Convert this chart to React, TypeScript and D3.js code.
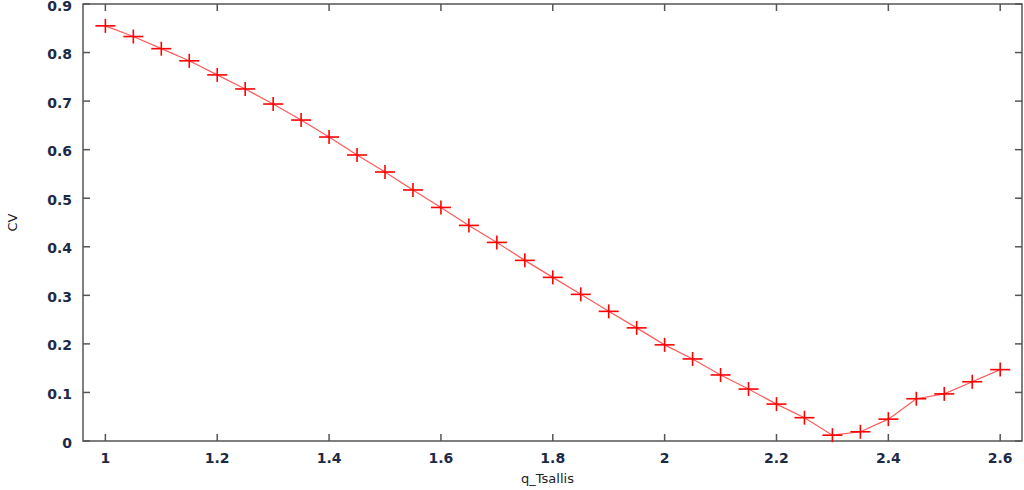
import { useEffect, useRef } from 'react';
import * as d3 from 'd3';

// q values and CV readings taken from the plot
const qValues = [
  1.0, 1.05, 1.1, 1.15, 1.2, 1.25, 1.3, 1.35, 1.4, 1.45, 1.5, 1.55, 1.6, 1.65, 1.7, 1.75, 1.8,
  1.85, 1.9, 1.95, 2.0, 2.05, 2.1, 2.15, 2.2, 2.25, 2.3, 2.35, 2.4, 2.45, 2.5, 2.55, 2.6
];
const cvValues = [
  0.855, 0.833, 0.808, 0.783, 0.754, 0.725, 0.694, 0.661, 0.626, 0.589, 0.554, 0.517, 0.481,
  0.444, 0.409, 0.372, 0.337, 0.302, 0.267, 0.233, 0.198, 0.169, 0.136, 0.107, 0.076, 0.048,
  0.012, 0.019, 0.045, 0.087, 0.097, 0.122, 0.147
];
const xTicks = [1, 1.2, 1.4, 1.6, 1.8, 2, 2.2, 2.4, 2.6];
const yTicks = [0, 0.1, 0.2, 0.3, 0.4, 0.5, 0.6, 0.7, 0.8, 0.9];

const WIDTH = 1024;
const HEIGHT = 490;
const margin = { top: 4, right: 2, bottom: 49, left: 83 };

export default function App() {
  const svgRef = useRef<SVGSVGElement>(null);

  useEffect(() => {
    if (!svgRef.current) return;
    const svg = d3.select(svgRef.current);
    svg.selectAll('*').remove();

    const innerW = WIDTH - margin.left - margin.right;
    const innerH = HEIGHT - margin.top - margin.bottom;

    const x = d3.scaleLinear().domain([0.96, 2.639]).range([0, innerW]);
    const y = d3.scaleLinear().domain([0, 0.9]).range([innerH, 0]);

    const g = svg.append('g').attr('transform', `translate(${margin.left},${margin.top})`);

    const tickLen = 7;
    const frameColor = '#555';
    const labelColor = '#1c2a48';

    // ticks, mirrored on all four sides
    xTicks.forEach(t => {
      const px = x(t);
      g.append('line').attr('x1', px).attr('x2', px).attr('y1', innerH).attr('y2', innerH - tickLen)
        .attr('stroke', frameColor).attr('stroke-width', 1.5);
      g.append('line').attr('x1', px).attr('x2', px).attr('y1', 0).attr('y2', tickLen)
        .attr('stroke', frameColor).attr('stroke-width', 1.5);
      g.append('text')
        .attr('x', px).attr('y', innerH + 22)
        .attr('text-anchor', 'middle')
        .attr('font-family', 'DejaVu Sans, sans-serif')
        .attr('font-weight', 'bold')
        .attr('font-size', 14)
        .attr('fill', labelColor)
        .text(d3.format('~g')(t));
    });

    yTicks.forEach(t => {
      const py = y(t);
      g.append('line').attr('x1', 0).attr('x2', tickLen).attr('y1', py).attr('y2', py)
        .attr('stroke', frameColor).attr('stroke-width', 1.5);
      g.append('line').attr('x1', innerW).attr('x2', innerW - tickLen).attr('y1', py).attr('y2', py)
        .attr('stroke', frameColor).attr('stroke-width', 1.5);
      g.append('text')
        .attr('x', -11).attr('y', py + 6.5)
        .attr('text-anchor', 'end')
        .attr('font-family', 'DejaVu Sans, sans-serif')
        .attr('font-weight', 'bold')
        .attr('font-size', 14)
        .attr('fill', labelColor)
        .text(d3.format('~g')(t));
    });

    // frame
    g.append('rect')
      .attr('x', 0).attr('y', 0).attr('width', innerW).attr('height', innerH)
      .attr('fill', 'none').attr('stroke', frameColor).attr('stroke-width', 1.5);

    const pts = qValues.map((q, i) => [q, cvValues[i]] as [number, number]);

    const line = d3.line<[number, number]>().x(d => x(d[0])).y(d => y(d[1]));
    g.append('path')
      .datum(pts)
      .attr('d', line)
      .attr('fill', 'none')
      .attr('stroke', '#ff3030')
      .attr('stroke-opacity', 0.8)
      .attr('stroke-width', 1.2);

    // plus markers
    const mk = g.append('g').attr('stroke', '#ff0000').attr('stroke-width', 1.6);
    pts.forEach(d => {
      const px = x(d[0]);
      const py = y(d[1]);
      mk.append('line').attr('x1', px - 10).attr('x2', px + 10).attr('y1', py).attr('y2', py);
      mk.append('line').attr('x1', px).attr('x2', px).attr('y1', py - 7).attr('y2', py + 7);
    });

    // axis titles
    svg.append('text')
      .attr('transform', `translate(17,${margin.top + innerH / 2}) rotate(-90)`)
      .attr('text-anchor', 'middle')
      .attr('font-family', 'DejaVu Sans, sans-serif')
      .attr('font-size', 13)
      .attr('fill', '#222')
      .text('CV');

    svg.append('text')
      .attr('x', margin.left + innerW / 2 - 5)
      .attr('y', 483)
      .attr('text-anchor', 'middle')
      .attr('font-family', 'DejaVu Sans, sans-serif')
      .attr('font-size', 13)
      .attr('fill', '#222')
      .text('q_Tsallis');
  }, []);

  return (
    <svg
      ref={svgRef}
      width={WIDTH}
      height={HEIGHT}
      style={{ position: 'absolute', left: 0, top: 0, background: '#fff' }}
    />
  );
}
